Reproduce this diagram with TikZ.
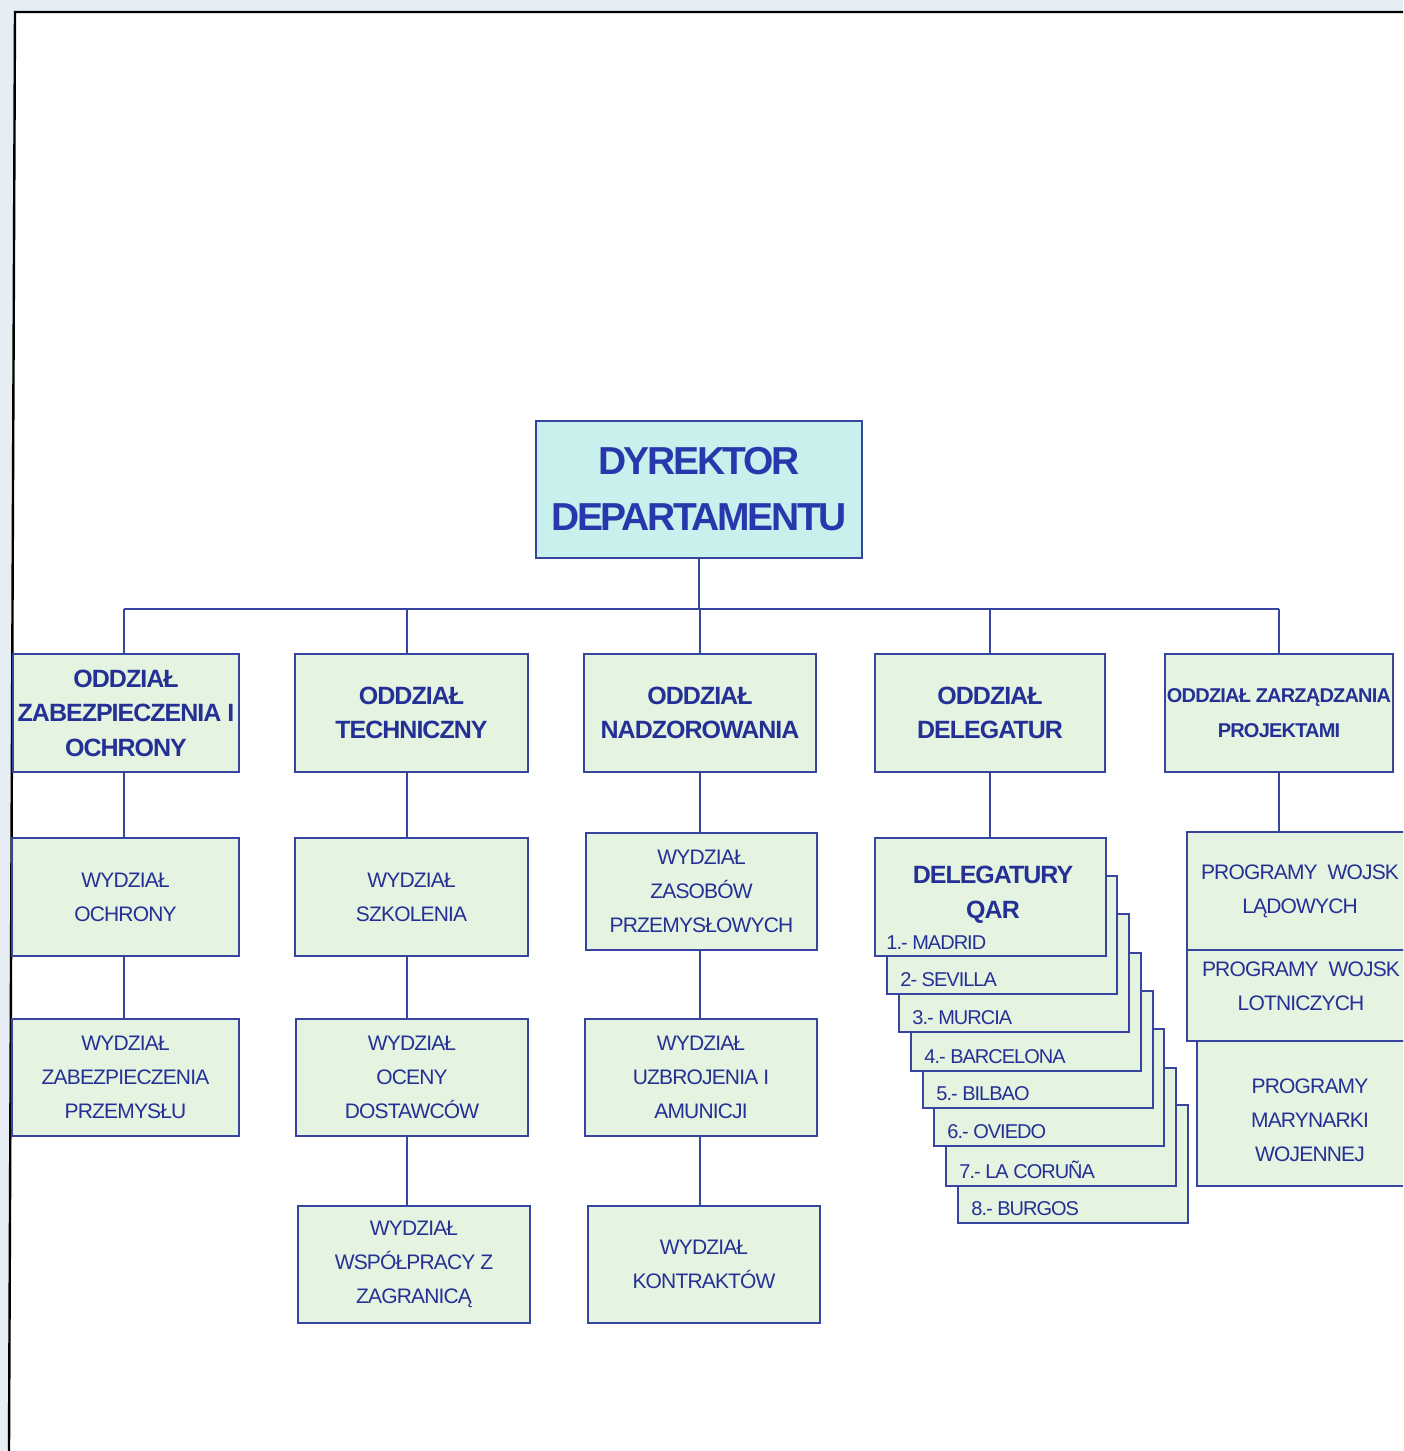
\documentclass[tikz,border=0pt]{standalone}
\usepackage{fontspec}
\setmainfont{Liberation Sans}
\newfontfamily\orgfont[LetterSpace=-4]{Liberation Sans}
\newfontfamily\dirfont[LetterSpace=-6]{Liberation Sans}
\newfontfamily\cityfont[LetterSpace=-5]{Liberation Sans}
\usetikzlibrary{calc}
\definecolor{ink}{RGB}{36,48,150}
\definecolor{dirink}{RGB}{40,56,172}
\definecolor{edge}{RGB}{55,68,160}
\definecolor{boxfill}{RGB}{228,244,224}
\definecolor{dirfill}{RGB}{200,240,236}
\definecolor{margin}{RGB}{230,238,243}
% box given by its corners in pixel units: name, x1, y1, x2, y2, style, text
\newcommand\orgbox[7]{\node[#6, minimum width={(#4-#2)*0.5pt}, minimum height={(#5-#3)*0.5pt}] (#1) at ({(#2+#4)/2},{(#3+#5)/2}) {#7};}
\begin{document}
\begin{tikzpicture}[x=0.5pt,y=-0.5pt,
  unit/.style={draw=edge, line width=1pt, fill=boxfill, inner sep=0pt, outer sep=0pt, text=ink, align=center},
  director/.style={unit, fill=dirfill, text=dirink, font=\dirfont\bfseries\fontsize{19.5}{28}\selectfont},
  head/.style={unit, font=\orgfont\bfseries\fontsize{12.5}{17.25}\selectfont},
  headsmall/.style={unit, font=\orgfont\bfseries\fontsize{10}{17.5}\selectfont},
  sect/.style={unit, font=\orgfont\fontsize{10.5}{17}\selectfont},
  plain/.style={text=ink, align=center, inner sep=0pt, font=\orgfont\fontsize{10.5}{17}\selectfont},
  title/.style={text=ink, align=center, inner sep=0pt, font=\orgfont\bfseries\fontsize{12.5}{17.5}\selectfont},
  city/.style={text=ink, anchor=base west, inner sep=0pt, font=\cityfont\fontsize{10}{12}\selectfont},
  link/.style={draw=edge, line width=0.75pt}]

\useasboundingbox (0,0) rectangle (1403,1451);
\clip (0,0) rectangle (1403,1451);

% page and frame
\fill[margin] (0,0) rectangle (1403,1451);
\fill[white] (15,12) -- (1403,12) -- (1403,1451) -- (9,1451) -- cycle;
\draw[black, line width=1.2pt] (1403,12) -- (15,12) -- (9,1451);

% top of the chart
\orgbox{dir}{536}{421}{862}{558}{director}{DYREKTOR\\DEPARTAMENTU}

% first level
\orgbox{a1}{13}{654}{239}{772}{head}{ODDZIAŁ\\ZABEZPIECZENIA I\\OCHRONY}
\orgbox{b1}{295}{654}{528}{772}{head}{ODDZIAŁ\\TECHNICZNY}
\orgbox{c1}{584}{654}{816}{772}{head}{ODDZIAŁ\\NADZOROWANIA}
\orgbox{d0}{875}{654}{1105}{772}{head}{ODDZIAŁ\\DELEGATUR}
\orgbox{e1}{1165}{654}{1393}{772}{headsmall}{ODDZIAŁ ZARZĄDZANIA\\PROJEKTAMI}

% column A
\orgbox{a2}{12}{838}{239}{956}{sect}{WYDZIAŁ\\OCHRONY}
\orgbox{a3}{12}{1019}{239}{1136}{sect}{WYDZIAŁ\\ZABEZPIECZENIA\\PRZEMYSŁU}

% column B
\orgbox{b2}{295}{838}{528}{956}{sect}{WYDZIAŁ\\SZKOLENIA}
\orgbox{b3}{296}{1019}{528}{1136}{sect}{WYDZIAŁ\\OCENY\\DOSTAWCÓW}
\orgbox{b4}{298}{1206}{530}{1323}{sect}{WYDZIAŁ\\WSPÓŁPRACY Z\\ZAGRANICĄ}

% column C
\orgbox{c2}{586}{833}{817}{950}{sect}{WYDZIAŁ\\ZASOBÓW\\PRZEMYSŁOWYCH}
\orgbox{c3}{585}{1019}{817}{1136}{sect}{WYDZIAŁ\\UZBROJENIA I\\AMUNICJI}
\orgbox{c4}{588}{1206}{820}{1323}{sect}{WYDZIAŁ\\KONTRAKTÓW}

% column D: stacked delegations, back to front
\orgbox{d8}{958}{1105}{1188}{1223}{unit}{}
\orgbox{d7}{946}{1068}{1176}{1186}{unit}{}
\orgbox{d6}{934}{1029}{1164}{1146}{unit}{}
\orgbox{d5}{923}{991}{1153}{1108}{unit}{}
\orgbox{d4}{911}{953}{1141}{1071}{unit}{}
\orgbox{d3}{899}{914}{1129}{1032}{unit}{}
\orgbox{d2}{887}{876}{1117}{994}{unit}{}
\orgbox{d1}{875}{838}{1106}{956}{unit}{}
\node[title] (dtitle) at (993,895) {DELEGATURY\\QAR};
\node[city] (m1) at ($(d1.south west)+(11,-7)$) {1.- MADRID};
\node[city] (m2) at ($(d2.south west)+(13,-8)$) {2- SEVILLA};
\node[city] (m3) at ($(d3.south west)+(13,-8)$) {3.- MURCIA};
\node[city] (m4) at ($(d4.south west)+(13,-8)$) {4.- BARCELONA};
\node[city] (m5) at ($(d5.south west)+(13,-8)$) {5.- BILBAO};
\node[city] (m6) at ($(d6.south west)+(13,-8)$) {6.- OVIEDO};
\node[city] (m7) at ($(d7.south west)+(13,-8)$) {7.- LA CORUÑA};
\node[city] (m8) at ($(d8.south west)+(13,-8)$) {8.- BURGOS};

% column E
\orgbox{e2}{1197}{1041}{1423}{1186}{unit}{}
\orgbox{e3}{1187}{950}{1413}{1041}{unit}{}
\orgbox{e4}{1187}{832}{1413}{950}{sect}{PROGRAMY\ \ WOJSK\\LĄDOWYCH}
\node[plain] (e3t) at (1301,986) {PROGRAMY\ \ WOJSK\\LOTNICZYCH};
\node[plain] (e2t) at (1310,1120) {PROGRAMY\\MARYNARKI\\WOJENNEJ};

% connectors
\coordinate (busL) at (124,609);
\coordinate (busR) at (1279,609);
\coordinate (colB) at (407,609);
\draw[link] (busL) -- (busR);
\draw[link] (dir.south) -- (dir.south |- busL);
\draw[link] (busL) -- (busL |- a1.north);
\draw[link] (colB) -- (colB |- b1.north);
\foreach \n in {c1,d0} \draw[link] (\n.north) -- (\n.north |- busL);
\draw[link] (busR) -- (busR |- e1.north);

\draw[link] (busL |- a1.south) -- (busL |- a2.north);
\draw[link] (busL |- a2.south) -- (busL |- a3.north);

\draw[link] (colB |- b1.south) -- (colB |- b2.north);
\draw[link] (colB |- b2.south) -- (colB |- b3.north);
\draw[link] (colB |- b3.south) -- (colB |- b4.north);

\draw[link] (c1.south) -- (c1.south |- c2.north);
\draw[link] (c1.south |- c2.south) -- (c1.south |- c3.north);
\draw[link] (c1.south |- c3.south) -- (c1.south |- c4.north);

\draw[link] (d0.south) -- (d0.south |- d1.north);
\draw[link] (busR |- e1.south) -- (busR |- e4.north);

\end{tikzpicture}
\end{document}
